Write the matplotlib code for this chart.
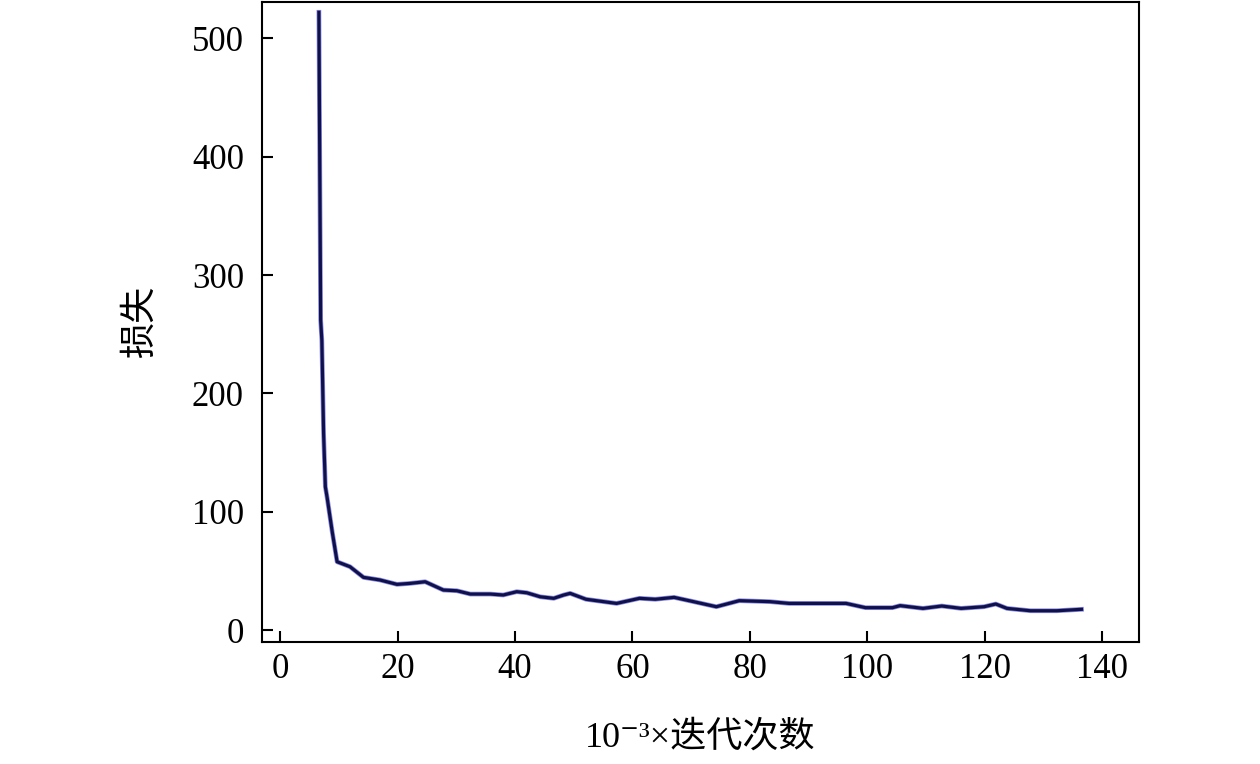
import matplotlib
matplotlib.use("Agg")
from matplotlib import pyplot as plt
import numpy as np

matplotlib.rcParams['font.family'] = ['Liberation Serif', 'Noto Sans CJK SC', 'DejaVu Serif']
matplotlib.rcParams['axes.unicode_minus'] = False

# 损失曲线
iters = [6.6, 6.9, 7.1, 7.4, 7.7, 8.0, 8.9, 9.1, 9.7, 11.9, 14.2, 17.0, 19.9, 22.1, 24.7,
         27.8, 30.1, 32.4, 35.8, 38.0, 40.3, 42.0, 44.3, 46.6, 48.3, 49.4, 52.1, 57.3,
         61.2, 63.9, 67.1, 70.4, 74.3, 78.2, 83.4, 86.7, 96.4, 99.7, 104.3, 105.6,
         109.5, 112.7, 116.0, 119.9, 121.9, 123.8, 127.8, 132.3, 136.5]
loss = [522, 262, 245, 166, 121, 112, 82, 76, 57.7, 53.5, 44.5, 42.3, 38.6, 39.4, 40.8,
        33.8, 33.2, 30.4, 30.4, 29.6, 32.4, 31.5, 28.1, 26.8, 29.6, 31, 26, 22.5,
        26.8, 26, 27.6, 24, 19.7, 24.8, 24, 22.5, 22.5, 18.9, 18.9, 20.6,
        18.3, 20.3, 18.3, 19.7, 22, 18.3, 16.3, 16.3, 17.5]

xticks = [0, 20, 40, 60, 80, 100, 120, 140]
yticks = [0, 100, 200, 300, 400, 500]

fig = plt.figure(figsize=(12.6, 7.64), dpi=100)
ax = fig.add_axes([0.2079, 0.1597, 0.6961, 0.8377])

# 蓝色边缘 + 深蓝主线
ax.plot(iters, loss, color='#5a5ad8', linewidth=3.4, alpha=0.7)
ax.plot(iters, loss, color='#10104a', linewidth=2.3)

ax.set_xlim(-3.1, 146.3)
ax.set_ylim(-10.1, 530.7)
ax.set_xticks(xticks)
ax.set_yticks(yticks)
ax.tick_params(direction='in', length=8, width=1.5, labelsize=25)
ax.tick_params(axis='x', pad=8)
ax.tick_params(axis='y', pad=13)
for s in ax.spines.values():
    s.set_linewidth(1.5)

ax.set_xlabel('10⁻³×迭代次数', fontsize=26)
ax.set_ylabel('损失', fontsize=26)
ax.xaxis.set_label_coords(0.5, -0.123)
ax.yaxis.set_label_coords(-0.1186, 0.5016)

plt.savefig('out.png', dpi=100)
